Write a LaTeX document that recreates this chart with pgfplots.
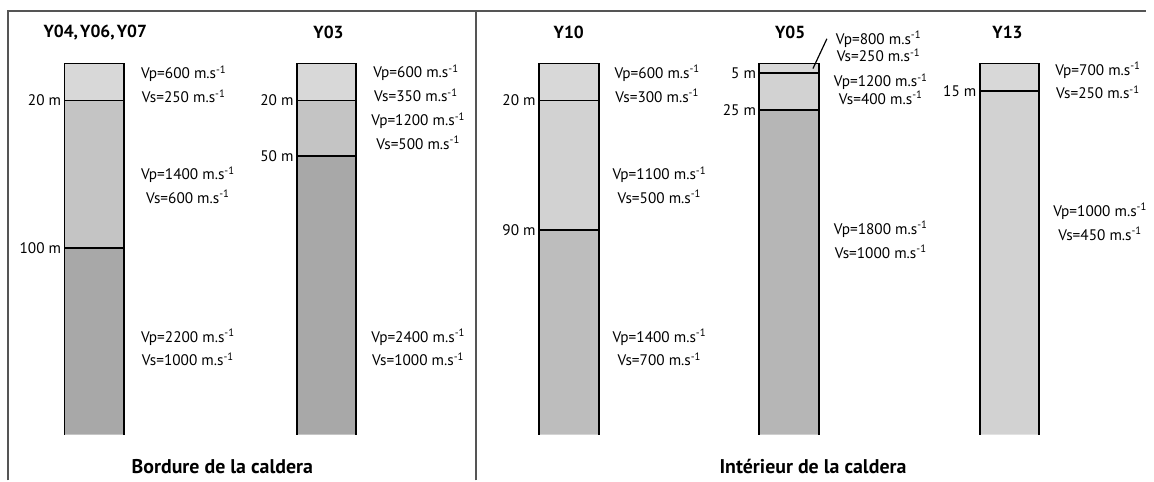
\documentclass[border=0pt]{standalone}
\usepackage{pgfplots}
\pgfplotsset{compat=1.18}
\usepackage{fontspec}
\setmainfont{PT Sans}
\definecolor{gA}{HTML}{D8D8D8}
\definecolor{gB}{HTML}{C4C4C4}
\definecolor{gC}{HTML}{A8A8A8}
\definecolor{gD}{HTML}{D2D2D2}
\definecolor{gE}{HTML}{BDBDBD}
\definecolor{gF}{HTML}{B6B6B6}
\definecolor{frame}{HTML}{555555}
\newcommand{\ms}{m.s\textsuperscript{-1}}
\newcommand{\lab}[3]{\node[anchor=west,align=center,font=\fontsize{7.7}{12}\selectfont] at (axis cs:#1,{(#2-64)/1.86}) {#3};}
\newcommand{\labt}[3]{\node[anchor=west,align=center,font=\fontsize{7.7}{8.8}\selectfont] at (axis cs:#1,{(#2-64)/1.86}) {#3};}
\newcommand{\dep}[3]{\node[anchor=east,font=\fontsize{7.7}{9}\selectfont,inner sep=1.5pt] at (axis cs:#1,#2) {#3};}
\newcommand{\ttl}[3]{\node[font=\fontsize{8.8}{10}\selectfont\bfseries] at (axis cs:#1,{(#2-64)/1.86}) {#3};}
\newcommand{\ttb}[3]{\node[font=\fontsize{10}{12}\selectfont\bfseries] at (axis cs:#1,{(#2-64)/1.86}) {#3};}
\begin{document}
\begin{tikzpicture}
\begin{axis}[
  width=577pt, height=242pt, scale only axis,
  xmin=0, xmax=1154, ymin=-34.41, ymax=225.81,
  y dir=reverse, hide axis, clip=false,
  outl/.style={black, solid, line width=0.95pt, mark=none},
]
\path (rel axis cs:0,0) rectangle (rel axis cs:1,1);
% ---- fills (depth in m) ----
% Y04, Y06, Y07
\addplot[fill=gA,draw=none] coordinates {(65,0) (125,0) (125,20) (65,20) (65,0)};
\addplot[fill=gB,draw=none] coordinates {(65,20) (125,20) (125,100) (65,100) (65,20)};
\addplot[fill=gC,draw=none] coordinates {(65,100) (125,100) (125,201) (65,201) (65,100)};
% Y03
\addplot[fill=gA,draw=none] coordinates {(299,0) (359,0) (359,20) (299,20) (299,0)};
\addplot[fill=gB,draw=none] coordinates {(299,20) (359,20) (359,50) (299,50) (299,20)};
\addplot[fill=gC,draw=none] coordinates {(299,50) (359,50) (359,201) (299,201) (299,50)};
% Y10
\addplot[fill=gA,draw=none] coordinates {(543,0) (603,0) (603,20) (543,20) (543,0)};
\addplot[fill=gD,draw=none] coordinates {(543,20) (603,20) (603,90) (543,90) (543,20)};
\addplot[fill=gE,draw=none] coordinates {(543,90) (603,90) (603,201) (543,201) (543,90)};
% Y05
\addplot[fill=gA,draw=none] coordinates {(765,0) (825,0) (825,5) (765,5) (765,0)};
\addplot[fill=gD,draw=none] coordinates {(765,5) (825,5) (825,25) (765,25) (765,5)};
\addplot[fill=gF,draw=none] coordinates {(765,25) (825,25) (825,201) (765,201) (765,25)};
% Y13
\addplot[fill=gA,draw=none] coordinates {(987,0) (1047,0) (1047,15) (987,15) (987,0)};
\addplot[fill=gD,draw=none] coordinates {(987,15) (1047,15) (1047,201) (987,201) (987,15)};
% ---- outlines ----
\addplot[outl] coordinates {(65,201) (65,0) (125,0) (125,201)};
\addplot[outl] coordinates {(65,20) (125,20)};
\addplot[outl] coordinates {(65,100) (125,100)};
\addplot[outl] coordinates {(299,201) (299,0) (359,0) (359,201)};
\addplot[outl] coordinates {(299,20) (359,20)};
\addplot[outl] coordinates {(299,50) (359,50)};
\addplot[outl] coordinates {(543,201) (543,0) (603,0) (603,201)};
\addplot[outl] coordinates {(543,20) (603,20)};
\addplot[outl] coordinates {(543,90) (603,90)};
\addplot[outl] coordinates {(765,201) (765,0) (825,0) (825,201)};
\addplot[outl] coordinates {(765,5) (825,5)};
\addplot[outl] coordinates {(765,25) (825,25)};
\addplot[outl] coordinates {(987,201) (987,0) (1047,0) (1047,201)};
\addplot[outl] coordinates {(987,15) (1047,15)};
% leader line Y05
\addplot[outl, line width=0.6pt] coordinates {(819,2.7) (833,-13.4)};
% frame
\addplot[frame, solid, mark=none, line width=1pt] coordinates {(8,225.81) (8,-28.5) (1154,-28.5)};
\addplot[frame, solid, mark=none, line width=1pt] coordinates {(480,225.81) (480,-28.5)};
% ---- titles ----
\ttl{96}{33}{Y04,\hspace{0.12em}Y06,\hspace{0.12em}Y07}
\ttl{331}{33}{Y03}
\ttl{573}{33}{Y10}
\ttl{796}{33}{Y05}
\ttl{1015}{33}{Y13}
\ttb{224}{470}{Bordure de la caldera}
\ttb{819}{470}{Intérieur de la caldera}
% ---- depth labels ----
\dep{65}{20}{20 m}
\dep{65}{100}{100 m}
\dep{299}{20}{20 m}
\dep{299}{50}{50 m}
\dep{543}{20}{20 m}
\dep{543}{90}{90 m}
\dep{765}{5}{5 m}
\dep{765}{25}{25 m}
\dep{987}{15}{15 m}
% ---- velocity labels ----
\lab{135}{85}{Vp=600 \ms\\Vs=250 \ms}
\lab{135}{186.5}{Vp=1400 \ms\\Vs=600 \ms}
\lab{135}{350}{Vp=2200 \ms\\Vs=1000 \ms}
\lab{369}{84}{Vp=600 \ms\\Vs=350 \ms}
\lab{367}{132}{Vp=1200 \ms\\Vs=500 \ms}
\lab{367}{350}{Vp=2400 \ms\\Vs=1000 \ms}
\lab{612}{84.5}{Vp=600 \ms\\Vs=300 \ms}
\lab{610}{186.5}{Vp=1100 \ms\\Vs=500 \ms}
\lab{610}{350}{Vp=1400 \ms\\Vs=700 \ms}
\labt{835}{47}{Vp=800 \ms\\Vs=250 \ms}
\labt{833}{89.5}{Vp=1200 \ms\\Vs=400 \ms}
\lab{833}{241.5}{Vp=1800 \ms\\Vs=1000 \ms}
\lab{1056}{81}{Vp=700 \ms\\Vs=250 \ms}
\lab{1054}{223.5}{Vp=1000 \ms\\Vs=450 \ms}
\end{axis}
\end{tikzpicture}
\end{document}
